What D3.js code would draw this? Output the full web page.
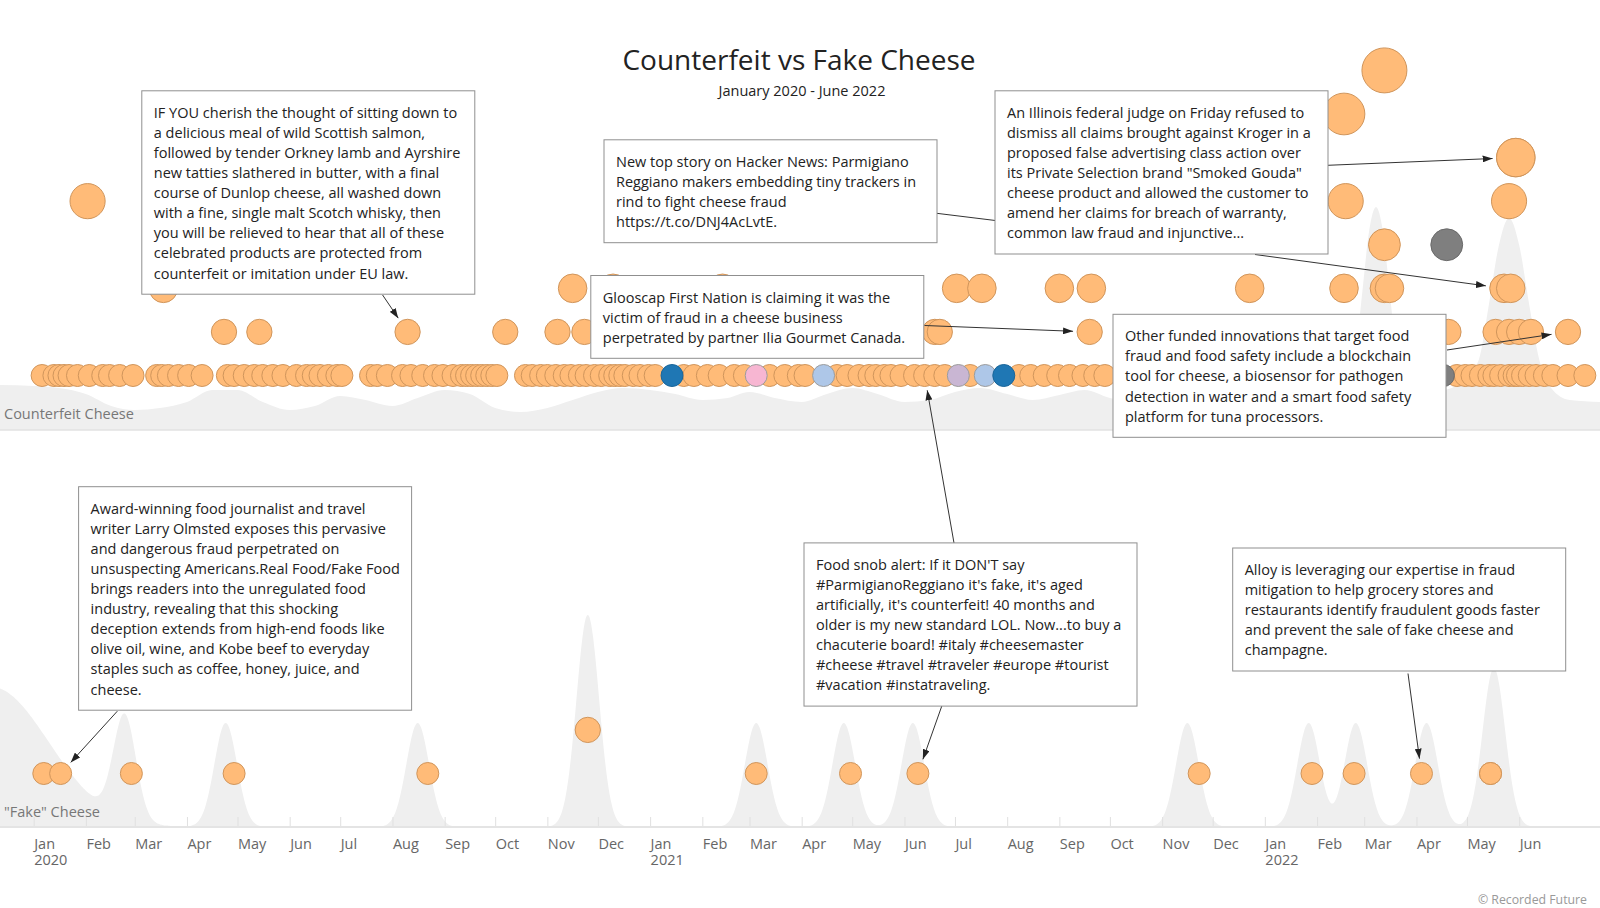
<!DOCTYPE html>
<html>
<head>
<meta charset="utf-8">
<script src="https://cdn.jsdelivr.net/npm/d3@7"></script>
<style>
  html, body { margin: 0; padding: 0; background: #fff; }
  svg { display: block; font-family: "Open Sans", "Noto Sans", sans-serif; }
</style>
</head>
<body>
<svg id="chart" width="1600" height="908"></svg>
<script>
// ---------------- DATA ----------------
const title = "Counterfeit vs Fake Cheese";
const subtitle = "January 2020 - June 2022";
const bandLabels = ["Counterfeit Cheese", "\"Fake\" Cheese"];
const credit = "© Recorded Future";

const sourceTypes  = ["news", "social", "tech", "forum", "blog", "gov"];
const sourceColors = ["#ffbb78", "#1f77b4", "#aec7e8", "#f7b6d2", "#c9b6d3", "#7f7f7f"];

// Counterfeit cheese references, one array per stacking row
const cfRow0 = ["2020-01-06","2020-01-13","2020-01-16","2020-01-19","2020-01-22","2020-01-27","2020-02-03","2020-02-11","2020-02-15","2020-02-21","2020-02-29",
  "2020-03-14","2020-03-17","2020-03-21","2020-03-27","2020-04-02","2020-04-10","2020-04-25","2020-04-29","2020-05-05","2020-05-11","2020-05-16","2020-05-22","2020-05-28",
  "2020-06-05","2020-06-11","2020-06-15","2020-06-19","2020-06-24","2020-06-29","2020-07-02","2020-07-19","2020-07-23","2020-07-29","2020-08-07","2020-08-12","2020-08-19",
  "2020-08-26","2020-08-31","2020-09-06","2020-09-11","2020-09-14","2020-09-17","2020-09-20","2020-09-23","2020-09-26","2020-09-29","2020-10-02","2020-10-19","2020-10-23",
  "2020-10-28","2020-11-01","2020-11-06","2020-11-11","2020-11-15","2020-11-20","2020-11-24","2020-11-29","2020-12-03","2020-12-08","2020-12-11","2020-12-14","2020-12-17",
  "2020-12-22","2020-12-26","2020-12-31","2021-01-04","2021-01-14","2021-01-21","2021-01-27","2021-02-04","2021-02-11","2021-02-20","2021-02-26","2021-03-05","2021-03-13",
  "2021-03-22","2021-03-30","2021-04-03","2021-04-14","2021-04-22","2021-04-28","2021-05-05","2021-05-11","2021-05-15","2021-05-20","2021-05-24","2021-05-30","2021-06-07",
  "2021-06-13","2021-06-19","2021-06-25","2021-07-03","2021-07-10","2021-07-19","2021-07-30","2021-08-08","2021-08-15","2021-08-23","2021-08-31","2021-09-07","2021-09-15",
  "2021-09-22","2021-09-28","2021-10-13","2021-11-05","2021-12-05","2022-01-04","2022-02-02","2022-03-04","2022-03-22","2022-04-09","2022-04-17","2022-04-25","2022-04-30",
  "2022-05-04","2022-05-09","2022-05-14","2022-05-17","2022-05-21","2022-05-26","2022-05-29","2022-05-31","2022-06-03","2022-06-07","2022-06-11","2022-06-16","2022-06-21",
  "2022-06-30","2022-07-10"];
const cfRow1 = ["2020-04-23","2020-05-14","2020-08-10","2020-10-07","2020-11-07","2020-11-23","2021-06-19","2021-06-22","2021-09-19","2022-04-20","2022-05-18","2022-05-26","2022-06-01","2022-06-08","2022-06-30"];
const cfRow2 = ["2020-03-18","2020-11-16","2020-12-10","2021-02-13","2021-07-02","2021-07-17","2021-09-01","2021-09-20","2021-12-23","2022-02-17","2022-03-13","2022-03-16","2022-05-23","2022-05-27"];
const cfRow3 = ["2022-03-13","2022-04-19"];
const cfRow4 = ["2020-02-02","2022-02-18","2022-05-26"];
const cfRow5 = ["2022-05-30","2022-05-30"];
const cfRow6 = ["2022-02-17"];
const cfRow7 = ["2022-03-13"];
const counterfeitRows = [cfRow0, cfRow1, cfRow2, cfRow3, cfRow4, cfRow5, cfRow6, cfRow7];

// [date, row, source] for references not from the default source
const sourceOverrides = [
  ["2021-01-14",0,"social"],["2021-03-05",0,"forum"],["2021-04-14",0,"tech"],["2021-07-03",0,"blog"],
  ["2021-07-19",0,"tech"],["2021-07-30",0,"social"],["2022-04-17",0,"gov"],["2022-04-19",3,"gov"]
];

// "Fake" cheese references: [date, row]
const fakeEvents = [["2020-01-07",0],["2020-01-17",0],["2020-02-28",0],["2020-04-29",0],["2020-08-22",0],["2020-11-25",1],
  ["2021-03-05",0],["2021-04-30",0],["2021-06-09",0],["2021-11-23",0],["2022-01-29",0],["2022-02-23",0],["2022-04-04",0],["2022-05-15",0],["2022-05-15",0]];

// Reference density, counterfeit band: [date, density]
const counterfeitDensity = [["2019-12-12",45],["2020-01-01",44],["2020-01-16",42],["2020-02-01",36],["2020-02-16",24],["2020-03-01",20],["2020-03-16",22],
  ["2020-04-01",28],["2020-04-16",40],["2020-05-01",40],["2020-05-16",28],["2020-06-01",20],["2020-06-16",24],["2020-07-01",34],["2020-07-16",30],
  ["2020-08-01",24],["2020-08-16",32],["2020-09-01",40],["2020-09-16",36],["2020-10-01",22],["2020-10-16",18],["2020-11-01",22],["2020-11-16",30],
  ["2020-12-01",38],["2020-12-16",42],["2021-01-01",40],["2021-01-16",36],["2021-02-01",30],["2021-02-16",32],["2021-03-01",38],["2021-03-16",32],
  ["2021-04-01",28],["2021-04-16",36],["2021-05-01",42],["2021-05-16",36],["2021-06-01",28],["2021-06-16",30],["2021-07-01",38],["2021-07-16",42],
  ["2021-08-01",36],["2021-08-16",30],["2021-09-01",35],["2021-09-16",40],["2021-10-01",32],["2021-10-16",28],["2021-11-01",30],["2021-11-16",34],
  ["2021-12-01",36],["2021-12-16",40],["2022-01-01",42],["2022-01-16",45],["2022-02-01",48],["2022-02-14",52],["2022-02-20",58],["2022-02-24",80],
  ["2022-02-28",140],["2022-03-04",200],["2022-03-08",223],["2022-03-12",200],["2022-03-16",140],["2022-03-20",80],["2022-03-24",56],["2022-04-01",42],
  ["2022-04-16",40],["2022-04-28",48],["2022-05-08",70],["2022-05-14",125],["2022-05-20",185],["2022-05-26",212],["2022-06-01",185],["2022-06-07",125],
  ["2022-06-13",70],["2022-06-20",42],["2022-07-01",30],["2022-07-19",28]];

// Reference density peaks, fake band: [date, peak height, spread in days]
const fakePeaks = [["2019-12-07",140,34],["2020-02-24",104,6.7],["2020-04-24",104,6.7],["2020-08-16",104,6.7],["2020-11-25",212,6.7],
  ["2021-03-05",104,6.7],["2021-04-26",104,6.7],["2021-06-06",104,6.7],["2021-11-16",104,6.7],["2022-01-27",104,6.7],
  ["2022-02-24",104,6.7],["2022-04-07",104,6.7],["2022-05-17",159,6.7]];

const annotationTexts = [
  ["IF YOU cherish the thought of sitting down to","a delicious meal of wild Scottish salmon,","followed by tender Orkney lamb and Ayrshire",
   "new tatties slathered in butter, with a final","course of Dunlop cheese, all washed down","with a fine, single malt Scotch whisky, then",
   "you will be relieved to hear that all of these","celebrated products are protected from","counterfeit or imitation under EU law."],
  ["New top story on Hacker News: Parmigiano","Reggiano makers embedding tiny trackers in","rind to fight cheese fraud","https://t.co/DNJ4AcLvtE."],
  ["An Illinois federal judge on Friday refused to","dismiss all claims brought against Kroger in a","proposed false advertising class action over",
   "its Private Selection brand \"Smoked Gouda\"","cheese product and allowed the customer to","amend her claims for breach of warranty,","common law fraud and injunctive…"],
  ["Glooscap First Nation is claiming it was the","victim of fraud in a cheese business","perpetrated by partner Ilia Gourmet Canada."],
  ["Other funded innovations that target food","fraud and food safety include a blockchain","tool for cheese, a biosensor for pathogen",
   "detection in water and a smart food safety","platform for tuna processors."],
  ["Award-winning food journalist and travel","writer Larry Olmsted exposes this pervasive","and dangerous fraud perpetrated on",
   "unsuspecting Americans.Real Food/Fake Food","brings readers into the unregulated food","industry, revealing that this shocking",
   "deception extends from high-end foods like","olive oil, wine, and Kobe beef to everyday","staples such as coffee, honey, juice, and","cheese."],
  ["Food snob alert: If it DON'T say","#ParmigianoReggiano it's fake, it's aged","artificially, it's counterfeit! 40 months and",
   "older is my new standard LOL. Now...to buy a","chacuterie board! #italy #cheesemaster","#cheese #travel #traveler #europe #tourist","#vacation #instatraveling."],
  ["Alloy is leveraging our expertise in fraud","mitigation to help grocery stores and","restaurants identify fraudulent goods faster",
   "and prevent the sale of fake cheese and","champagne."]
];
// annotation arrow targets: [band, date, row]
const annotationTargets = [
  [["cf","2020-08-10",1]], [], [["cf","2022-05-30",5],["cf","2022-05-23",2]], [["cf","2021-09-19",1]],
  [["cf","2022-06-30",1]], [["fk","2020-01-17",0]], [["cf","2021-06-13",0],["fk","2021-06-09",0]], [["fk","2022-04-04",0]]
];

// ---------------- LAYOUT ----------------
const W = 1600, H = 908;
const boxLayout = [
  {x:141.8, y:90.8, starts:[[382.6,295]]},
  {x:604, y:139.8, starts:[[936.7,213.3]], hiddenEnd:[1040,226]},
  {x:995, y:90.8, starts:[[1327.6,165.3],[1255,254.5]]},
  {x:590.8, y:275.5, starts:[[924.5,325.5]]},
  {x:1113, y:314.3, starts:[[1447,350]]},
  {x:78.6, y:486.7, starts:[[117.3,711.2]]},
  {x:804, y:542.9, starts:[[954,543],[941.8,706]]},
  {x:1232.7, y:548, starts:[[1408,673.5]]}
];
const boxW = 333, lineH = 20.1, fontSize = 14.5;

const parse = d3.timeParse("%Y-%m-%d");
const svg = d3.select("#chart");

const x = d3.scaleTime().domain([parse("2019-12-12"), parse("2022-07-19")]).range([0, W]);
const yCF = d3.scaleLinear().domain([0, 7]).range([375.5, 70.4]);
const yFK = d3.scaleLinear().domain([0, 7]).range([773.5, 773.5 - 305.1]);
const rScale = d3.scaleLinear().domain([0, 7]).range([11, 22.5]);
const yDenCF = d3.scaleLinear().domain([0, 223]).range([430, 207]);
const yDenFK = d3.scaleLinear().domain([0, 212]).range([827, 615]);
const color = d3.scaleOrdinal().domain(sourceTypes).range(sourceColors);
const strokeOf = s => s === "news" ? "#d0955b" : (s === "social" ? "#1a6599" : (s === "gov" ? "#6a6a6a" : "#9c9c9c"));

// ---------------- DENSITY AREAS ----------------
const cfDen = counterfeitDensity.map(([d, v]) => ({date: parse(d), value: v}));
svg.append("path")
  .datum(cfDen)
  .attr("fill", "#efefef")
  .attr("d", d3.area().x(d => x(d.date)).y0(yDenCF(0)).y1(d => yDenCF(d.value)).curve(d3.curveMonotoneX));

const peaks = fakePeaks.map(([d, h, s]) => ({date: parse(d), h, s}));
const days = d3.timeDay.range(x.domain()[0], d3.timeDay.offset(x.domain()[1], 1));
const fkDen = days.map(t => {
  let v = 0;
  peaks.forEach(p => { const dd = (t - p.date) / 864e5; v += p.h * Math.exp(-dd * dd / (2 * p.s * p.s)); });
  return {date: t, value: v};
});
svg.append("path")
  .datum(fkDen)
  .attr("fill", "#efefef")
  .attr("d", d3.area().x(d => x(d.date)).y0(yDenFK(0)).y1(d => yDenFK(d.value)).curve(d3.curveMonotoneX));

// band separator and axis
svg.append("line").attr("x1", 0).attr("x2", W).attr("y1", 430).attr("y2", 430)
  .attr("stroke", "#e2e2e2").attr("stroke-width", 1.5);

const months = d3.timeMonth.range(parse("2020-01-01"), parse("2022-06-02"));
const axis = d3.axisBottom(x).tickValues(months).tickSize(-10).tickFormat(d3.timeFormat("%b"));
const axG = svg.append("g").attr("transform", "translate(0,827)").call(axis);
axG.select(".domain").remove();
axG.selectAll(".tick line").attr("stroke", "#e0e0e0");
axG.selectAll(".tick text")
  .attr("text-anchor", "start").attr("x", 0).attr("y", 12).attr("dy", "0.71em")
  .attr("fill", "#666").attr("font-size", fontSize).attr("font-family", "Open Sans")
  .each(function(d) {
    if (d.getMonth() === 0) {
      d3.select(this).append("tspan").attr("x", 0).attr("dy", "1.1em").text(d.getFullYear());
    }
  });
svg.append("line").attr("x1", 0).attr("x2", W).attr("y1", 827).attr("y2", 827)
  .attr("stroke", "#e4e4e4").attr("stroke-width", 2);

// band labels
svg.append("text").attr("x", 4).attr("y", 419).attr("font-size", fontSize).attr("fill", "#777").text(bandLabels[0]);
svg.append("text").attr("x", 4).attr("y", 817).attr("font-size", fontSize).attr("fill", "#777").text(bandLabels[1]);

// ---------------- BUBBLES ----------------
const cfEvents = [];
counterfeitRows.forEach((dates, row) => dates.forEach(d => cfEvents.push({date: parse(d), row, source: "news"})));
sourceOverrides.forEach(([d, row, src]) => {
  const e = cfEvents.find(e => +e.date === +parse(d) && e.row === row);
  if (e) e.source = src;
});
const cfSorted = cfEvents.slice().sort((a, b) => (a.source !== "news") - (b.source !== "news"));

svg.append("g").selectAll("circle").data(cfSorted).join("circle")
  .attr("cx", d => x(d.date)).attr("cy", d => yCF(d.row)).attr("r", d => rScale(d.row))
  .attr("fill", d => color(d.source)).attr("stroke", d => strokeOf(d.source)).attr("stroke-width", 1);

const fkEvents = fakeEvents.map(([d, row]) => ({date: parse(d), row, source: "news"}));
svg.append("g").selectAll("circle").data(fkEvents).join("circle")
  .attr("cx", d => x(d.date)).attr("cy", d => yFK(d.row)).attr("r", d => rScale(d.row))
  .attr("fill", d => color(d.source)).attr("stroke", d => strokeOf(d.source)).attr("stroke-width", 1);

// ---------------- ANNOTATIONS ----------------
svg.append("defs").append("marker")
  .attr("id", "arrow").attr("viewBox", "0 0 10 7").attr("refX", 10).attr("refY", 3.5)
  .attr("markerWidth", 10).attr("markerHeight", 7).attr("markerUnits", "userSpaceOnUse").attr("orient", "auto")
  .append("path").attr("d", "M0,0L10,3.5L0,7Z").attr("fill", "#222");

const arrowG = svg.append("g");
boxLayout.forEach((b, i) => {
  const targets = annotationTargets[i];
  b.starts.forEach((s, j) => {
    let end;
    if (targets[j]) {
      const [band, d, row] = targets[j];
      const cx = x(parse(d));
      const cy = band === "cf" ? yCF(row) : yFK(row);
      const r = rScale(row) + 4;
      const dx = cx - s[0], dy = cy - s[1], len = Math.hypot(dx, dy);
      end = [cx - dx / len * r, cy - dy / len * r];
      arrowG.append("line").attr("x1", s[0]).attr("y1", s[1]).attr("x2", end[0]).attr("y2", end[1])
        .attr("stroke", "#333").attr("stroke-width", 1).attr("marker-end", "url(#arrow)");
    } else if (b.hiddenEnd) {
      arrowG.append("line").attr("x1", s[0]).attr("y1", s[1]).attr("x2", b.hiddenEnd[0]).attr("y2", b.hiddenEnd[1])
        .attr("stroke", "#333").attr("stroke-width", 1);
    }
  });
});

boxLayout.forEach((b, i) => {
  const lines = annotationTexts[i];
  const h = lines.length * lineH + 22.5;
  const g = svg.append("g").attr("transform", `translate(${b.x},${b.y})`);
  g.append("rect").attr("width", boxW).attr("height", h).attr("fill", "#fff").attr("stroke", "#8f8f8f").attr("stroke-width", 1);
  const t = g.append("text").attr("font-size", fontSize).attr("fill", "#222");
  lines.forEach((l, k) => t.append("tspan").attr("x", 12).attr("y", 27 + k * lineH).text(l));
});

// ---------------- TITLES ----------------
svg.append("text").attr("x", 799).attr("y", 70).attr("text-anchor", "middle").attr("font-size", 28).attr("fill", "#222").text(title);
svg.append("text").attr("x", 802).attr("y", 95.5).attr("text-anchor", "middle").attr("font-size", fontSize).attr("fill", "#222").text(subtitle);
svg.append("text").attr("x", 1587).attr("y", 904).attr("text-anchor", "end").attr("font-size", 12.3).attr("fill", "#999").text(credit);
</script>
</body>
</html>
